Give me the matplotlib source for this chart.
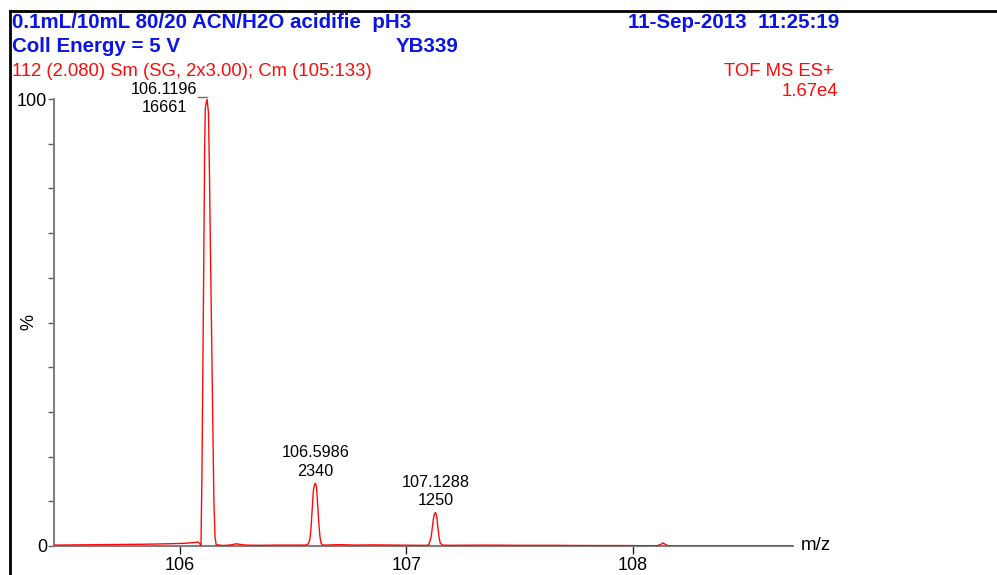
#!/usr/bin/env python3
# -*- coding: utf-8 -*-
"""TOF MS ES+ spectrum, m/z 105.4 - 108.7, relative intensity in %."""
import matplotlib
matplotlib.use("Agg")
import matplotlib.pyplot as plt
from matplotlib.lines import Line2D

plt.rcParams["font.family"] = ["Liberation Sans", "DejaVu Sans"]

# header texts
TITLE_1 = "0.1mL/10mL 80/20 ACN/H2O acidifie  pH3"
TITLE_2 = "Coll Energy = 5 V"
SAMPLE = "YB339"
DATE = "11-Sep-2013  11:25:19"
SCAN = "112 (2.080) Sm (SG, 2x3.00); Cm (105:133)"
MODE = "TOF MS ES+"
BPI = "1.67e4"

# trace (m/z, % of base peak)
mz = [105.444, 105.55, 105.65, 105.75, 105.85, 105.95, 106.02, 106.06, 106.08,
      106.087, 106.093, 106.097, 106.101, 106.105, 106.109, 106.112, 106.1196,
      106.126, 106.130, 106.135, 106.140, 106.145, 106.150, 106.155, 106.160,
      106.19, 106.22, 106.24, 106.25, 106.26, 106.29, 106.35, 106.42, 106.50,
      106.555, 106.568, 106.574, 106.579, 106.584, 106.589, 106.594, 106.5986,
      106.603, 106.608, 106.613, 106.618, 106.623, 106.629, 106.642,
      106.70, 106.78, 106.86, 106.95, 107.04, 107.09, 107.099, 107.109, 107.114,
      107.119, 107.124, 107.1288, 107.134, 107.139, 107.144, 107.149, 107.159,
      107.20, 107.35, 107.50, 107.65, 107.80, 107.95, 108.08, 108.11, 108.125,
      108.133, 108.142, 108.155, 108.18, 108.30, 108.50, 108.707]
pct = [0.2, 0.25, 0.3, 0.35, 0.4, 0.5, 0.6, 0.75, 0.9,
       0.6, 0.0, 15.0, 38.0, 62.0, 88.0, 98.0, 100.0,
       97.0, 85.0, 65.0, 47.0, 28.0, 10.0, 2.0, 0.3,
       0.1, 0.2, 0.4, 0.5, 0.4, 0.2, 0.15, 0.2, 0.2,
       0.2, 0.5, 1.6, 4.1, 8.2, 12.3, 13.7, 14.04,
       13.2, 9.5, 5.3, 2.2, 0.7, 0.25, 0.2,
       0.3, 0.2, 0.25, 0.2, 0.15, 0.15, 0.3, 1.9, 3.9,
       6.0, 7.2, 7.5, 6.6, 4.2, 2.0, 0.7, 0.2,
       0.15, 0.2, 0.15, 0.15, 0.1, 0.1, 0.05, 0.1, 0.4,
       0.7, 0.4, 0.05, 0.0, 0.0, 0.0, 0.0]

# labelled peaks
peak_mz = [106.1196, 106.5986, 107.1288]
peak_pct = [100.0, 14.04, 7.50]
peak_counts = [16661, 2340, 1250]

XLIM = (105.444, 108.707)
XTICKS = [106, 107, 108]

W, H = 997, 575
fig = plt.figure(figsize=(W / 100, H / 100), dpi=100)
ax = fig.add_axes([54 / W, 1 - 546 / H, (793 - 54) / W, (546 - 99) / H])


def px(x, y):
    return x / W, 1 - y / H


# black frame round the page
fig.add_artist(Line2D([10 / W, 1.0], [1 - 11 / H] * 2, color="black", lw=2))
fig.add_artist(Line2D([10 / W] * 2, [0.0, 1 - 11 / H], color="black", lw=2))

blue = "#0a14e6"
red = "#ff0a0a"
fig.text(*px(12, 23), TITLE_1, color=blue, fontsize=14.8, fontweight="bold", va="center")
fig.text(*px(12, 46), TITLE_2, color=blue, fontsize=14.8, fontweight="bold", va="center")
fig.text(*px(396, 46), SAMPLE, color=blue, fontsize=14.8, fontweight="bold", va="center")
fig.text(*px(628, 23), DATE, color=blue, fontsize=14.8, fontweight="bold", va="center")
fig.text(*px(12, 72), SCAN, color=red, fontsize=13.3, va="center")
fig.text(*px(834, 72), MODE, color=red, fontsize=13.3, va="center", ha="right")
fig.text(*px(838, 92), BPI, color=red, fontsize=13.3, va="center", ha="right")

ax.plot(mz, pct, color=red, lw=1.0, zorder=3)

ax.set_xlim(*XLIM)
ax.set_ylim(0, 100)
for s in ("top", "right"):
    ax.spines[s].set_visible(False)
for s in ("left", "bottom"):
    ax.spines[s].set_color("#808080")
    ax.spines[s].set_linewidth(1.5)

ax.set_xticks(XTICKS)
ax.set_xticklabels([str(t) for t in XTICKS], fontsize=13)
ax.tick_params(axis="x", length=6, width=1, color="#202020", pad=2)
ax.set_yticks([0, 100])
ax.set_yticklabels(["0", "100"], fontsize=13)
ax.set_yticks(range(10, 100, 10), minor=True)
ax.tick_params(axis="y", which="both", length=4, width=1, color="#606060", pad=1)

ax.text(1.01, 0.0, "m/z", transform=ax.transAxes, fontsize=13.5, va="center", ha="left")
fig.text(*px(29, 322), "%", fontsize=13, rotation=90, va="center", ha="center")

# peak labels: base peak sits to the left with a short leader, others above
ax.plot([peak_mz[0] - 0.04, peak_mz[0]], [100.5, 100.5], color="#707070", lw=1,
        clip_on=False, zorder=2)
ax.annotate(f"{peak_mz[0]:.4f}\n{peak_counts[0]}", (peak_mz[0], peak_pct[0]),
            xytext=(-31, 0.5), textcoords="offset points", ha="center", va="center",
            fontsize=11.7, linespacing=1.25, annotation_clip=False)
for m, p, c in zip(peak_mz[1:], peak_pct[1:], peak_counts[1:]):
    ax.annotate(f"{m:.4f}\n{c}", (m, p), xytext=(0, 3), textcoords="offset points",
                ha="center", va="bottom", fontsize=11.7, linespacing=1.3)

fig.savefig("out.png", dpi=100)
